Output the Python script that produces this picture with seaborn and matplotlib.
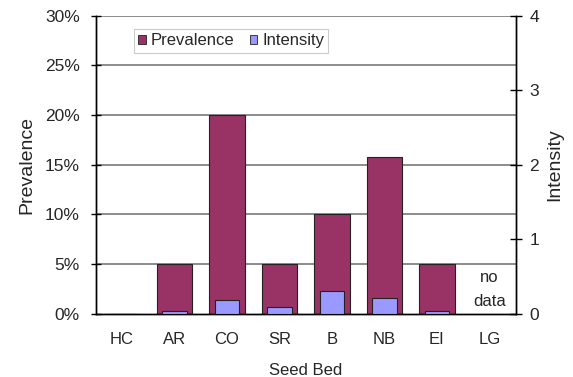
import numpy as np
import pandas as pd
import matplotlib
matplotlib.use("Agg")
import matplotlib.pyplot as plt
from matplotlib.patches import Patch
from matplotlib.ticker import FuncFormatter, FixedLocator
import seaborn as sns

# Seed bed categories and measured values
seed_beds = ["HC", "AR", "CO", "SR", "B", "NB", "EI", "LG"]
prevalence = [0.0, 5.0, 20.0, 5.0, 10.0, 15.8, 5.0, np.nan]   # percent
intensity = [0.0, 0.04, 0.19, 0.09, 0.30, 0.21, 0.04, np.nan]

prev_color = "#993366"
int_color = "#9999FF"

sns.set_style("white")
plt.rcParams["font.family"] = ["Liberation Sans", "DejaVu Sans"]

df = pd.DataFrame({"Seed Bed": seed_beds,
                   "Prevalence": prevalence,
                   "Intensity": intensity})

fig = plt.figure(figsize=(5.73, 3.77), dpi=100)
ax = fig.add_axes([0.167, 0.168, 0.733, 0.790])
ax2 = ax.twinx()

# horizontal gridlines behind the bars
ax.set_axisbelow(True)
for y in [5, 10, 15, 20, 25, 30]:
    ax.axhline(y, color="#6e6e6e", lw=1.1, zorder=0)

sns.barplot(data=df, x="Seed Bed", y="Prevalence", order=seed_beds,
            color=prev_color, saturation=1, width=0.67,
            edgecolor="#222222", linewidth=0.8, ax=ax, zorder=2)
sns.barplot(data=df, x="Seed Bed", y="Intensity", order=seed_beds,
            color=int_color, saturation=1, width=0.46,
            edgecolor="#222222", linewidth=0.8, ax=ax2, zorder=3)

# Left axis: prevalence
ax.set_ylim(0, 30)
ax.set_yticks([0, 5, 10, 15, 20, 25, 30])
ax.yaxis.set_major_formatter(FuncFormatter(lambda v, p: f"{int(v)}%"))
ax.set_ylabel("Prevalence", fontsize=14, labelpad=7)
ax.set_xlim(-0.5, len(seed_beds) - 0.5)
ax.set_xlabel("Seed Bed", fontsize=12, labelpad=12)

# Right axis: intensity
ax2.set_ylim(0, 4)
ax2.set_yticks([0, 1, 2, 3, 4])
ax2.set_ylabel("Intensity", fontsize=14, labelpad=5)

# Category ticks between bars
ax.xaxis.set_minor_locator(FixedLocator(np.arange(-0.5, len(seed_beds), 1.0)))
ax.tick_params(axis="x", which="major", length=0, labelsize=12, pad=13)
ax.tick_params(axis="x", which="minor", length=5, width=1, direction="out",
               color="black")
ax.tick_params(axis="y", length=7, width=1, direction="inout", labelsize=12.5,
               pad=8, color="black", left=True)
ax2.tick_params(axis="y", length=8, width=1, direction="inout", labelsize=12.5,
                pad=6, color="black", right=True)

for a in (ax, ax2):
    a.spines["top"].set_visible(False)
    for s in ("left", "right", "bottom"):
        a.spines[s].set_color("black")
        a.spines[s].set_linewidth(1.0)

# Missing category note
lg_idx = seed_beds.index("LG")
ax.text(lg_idx, 2.4, "no\ndata", ha="center", va="center", fontsize=12,
        linespacing=1.75)

handles = [Patch(facecolor=prev_color, edgecolor="#222222", lw=0.6),
           Patch(facecolor=int_color, edgecolor="#222222", lw=0.6)]
leg = ax2.legend(handles, ["Prevalence", "Intensity"], loc="upper left",
                 bbox_to_anchor=(0.092, 0.955), ncol=2, fontsize=12,
                 handlelength=0.45, handleheight=0.45, handletextpad=0.3,
                 columnspacing=0.9, borderpad=0.25, frameon=True,
                 fancybox=False, edgecolor="#cccccc", framealpha=1,
                 borderaxespad=0)
leg.get_frame().set_linewidth(0.8)

fig.savefig("out.png", dpi=100)
